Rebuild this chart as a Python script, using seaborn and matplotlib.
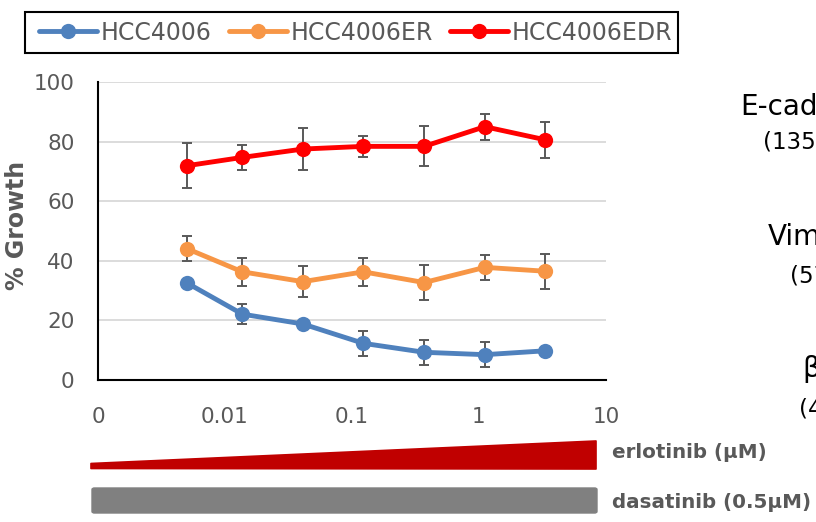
import numpy as np
import pandas as pd
import matplotlib
matplotlib.use("Agg")
import matplotlib.pyplot as plt
import seaborn as sns
from matplotlib.patches import Polygon, FancyBboxPatch, Rectangle

# erlotinib 농도 (uM), 3배 희석
doses = [0.005, 0.0137, 0.041, 0.123, 0.37, 1.11, 3.33]
cell_lines = ["HCC4006", "HCC4006ER", "HCC4006EDR"]

growth_4006 = [32.6, 22.1, 18.8, 12.3, 9.3, 8.5, 9.8]
err_4006 = [0.8, 3.4, 0.8, 4.2, 4.1, 4.2, 0.8]
growth_er = [44.1, 36.3, 33.0, 36.3, 32.7, 37.8, 36.5]
err_er = [4.1, 4.6, 5.3, 4.6, 5.9, 4.1, 5.8]
growth_edr = [71.9, 74.7, 77.5, 78.4, 78.4, 85.0, 80.6]
err_edr = [7.5, 4.2, 7.0, 3.6, 6.7, 4.4, 6.1]

xtick_vals = [0.001, 0.01, 0.1, 1, 10]
xtick_labels = ["0", "0.01", "0.1", "1", "10"]

colors = {"HCC4006": "#4F81BD", "HCC4006ER": "#F79646", "HCC4006EDR": "#FF0000"}
grey = "#595959"

df = pd.DataFrame({
    "dose": doses * 3,
    "growth": growth_4006 + growth_er + growth_edr,
    "err": err_4006 + err_er + err_edr,
    "line": [c for c in cell_lines for _ in doses],
})

sns.set_style("white")
plt.rcParams["font.family"] = ["DejaVu Sans"]

W, H = 816, 522
fig = plt.figure(figsize=(W / 100, H / 100), dpi=100)

def fx(px):
    return px / W

def fy(py):
    return 1 - py / H

ax = fig.add_axes([fx(98), fy(380), fx(606) - fx(98), fy(82) - fy(380)])

# 에러바 (선 뒤에)
for name in cell_lines:
    sub = df[df["line"] == name]
    ax.errorbar(sub["dose"], sub["growth"], yerr=sub["err"], fmt="none",
                ecolor=grey, elinewidth=1.4, capsize=3.7, capthick=1.4, zorder=1.5)

sns.lineplot(data=df, x="dose", y="growth", hue="line", hue_order=cell_lines,
             palette=colors, marker="o", markersize=11, markeredgewidth=0,
             linewidth=3.5, ax=ax, zorder=3)

ax.set_xscale("log")
ax.set_xlim(0.001, 10)
ax.set_ylim(0, 100)
ax.set_xticks(xtick_vals)
ax.set_xticklabels(xtick_labels)
ax.xaxis.set_minor_locator(matplotlib.ticker.NullLocator())
ax.set_yticks(range(0, 101, 20))

ax.yaxis.grid(True, color="#D9D9D9", linewidth=1.3)
ax.xaxis.grid(False)
ax.set_axisbelow(True)
for s in ["top", "right"]:
    ax.spines[s].set_visible(False)
for s in ["left", "bottom"]:
    ax.spines[s].set_color("black")
    ax.spines[s].set_linewidth(1.5)

ax.tick_params(axis="x", direction="inout", length=13.7, width=1.5, color="black",
               labelsize=15.5, labelcolor=grey, pad=12.5)
ax.tick_params(axis="y", length=0, labelsize=15.5, labelcolor=grey, pad=17)

ax.set_xlabel("")
ax.set_ylabel("% Growth", fontsize=17, fontweight="bold", color=grey)
ax.yaxis.label.set_va("center")
ax.yaxis.set_label_coords((17.5 - 98) / (606 - 98), (380 - 225) / 298)

# 범례 (테두리는 따로 그림)
handles, labels = ax.get_legend_handles_labels()
ax.get_legend().remove()
leg = fig.legend(handles, labels, loc="center left", bbox_to_anchor=(fx(39), fy(32.5)),
                 ncol=3, fontsize=17, frameon=False,
                 handlelength=2.45, handletextpad=0.15, columnspacing=0.75,
                 borderpad=0, borderaxespad=0)
for t in leg.get_texts():
    t.set_color(grey)
frame = Rectangle((fx(25), fy(53)), fx(678) - fx(25), fy(12) - fy(53),
                  transform=fig.transFigure, facecolor="none", edgecolor="black", linewidth=1.5)
fig.add_artist(frame)

# 오른쪽 잘린 라벨 (western blot)
fig.text(fx(740), fy(107), "E-cadherin", fontsize=20, color="black", va="center")
fig.text(fx(763), fy(142), "(135 kDa)", fontsize=16.5, color="black", va="center")
fig.text(fx(768), fy(237), "Vimentin", fontsize=20, color="black", va="center")
fig.text(fx(790), fy(276), "(57 kDa)", fontsize=16.5, color="black", va="center")
fig.text(fx(802), fy(369), "β-actin", fontsize=20, color="black", va="center")
fig.text(fx(799), fy(409), "(42 kDa)", fontsize=16.5, color="black", va="center")

# 약물 처리 표시: erlotinib 쐐기, dasatinib 막대
wedge = Polygon([(fx(91), fy(468.5)), (fx(91), fy(463.5)), (fx(596), fy(441)), (fx(596), fy(469))],
                closed=True, transform=fig.transFigure, facecolor="#C00000",
                edgecolor="#C00000", linewidth=1.2, joinstyle="round")
fig.add_artist(wedge)
bar = FancyBboxPatch((fx(92), fy(513)), fx(597) - fx(92), fy(488) - fy(513),
                     boxstyle="round,pad=0,rounding_size=0.003", transform=fig.transFigure,
                     facecolor="#808080", edgecolor="#808080", linewidth=1)
fig.add_artist(bar)
fig.text(fx(612), fy(453), "erlotinib (μM)", fontsize=14.3, fontweight="bold", color=grey, va="center")
fig.text(fx(612), fy(502), "dasatinib (0.5μM)", fontsize=14.3, fontweight="bold", color=grey, va="center")

fig.savefig("out.png", dpi=100)
